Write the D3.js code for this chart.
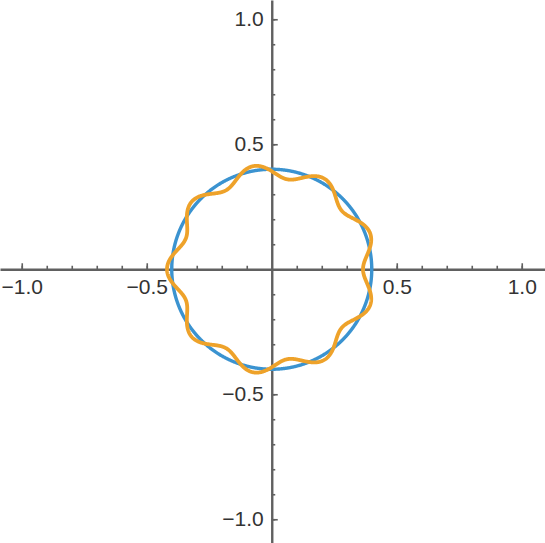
<!DOCTYPE html>
<html>
<head>
<meta charset="utf-8">
<script src="https://cdn.jsdelivr.net/npm/d3@7"></script>
<style>
  html, body { margin: 0; padding: 0; background: #fff; }
  .axis text { font-family: "Liberation Sans", Arial, sans-serif; font-size: 21px; fill: #333; }
  .axis path, .axis line { stroke: #606060; }
</style>
</head>
<body>
<div id="chart"></div>
<script>
// Axis ticks
const majorTicks = [-1.0, -0.5, 0.5, 1.0];
const minorTicks = [-1.0, -0.9, -0.8, -0.7, -0.6, -0.5, -0.4, -0.3, -0.2, -0.1,
                    0.1, 0.2, 0.3, 0.4, 0.5, 0.6, 0.7, 0.8, 0.9, 1.0];

// Plot ranges
const xRange = [-1.087, 1.093];
const yRange = [-1.095, 1.077];

// Curve parameters: blue circle, orange circle with 9 radial ripples
const circleRadius = [0.4];
const rippleBase = [0.392];
const rippleAmp = [0.027];
const rippleCount = [9];
const ripplePhase = [Math.PI];

const width = 545;
const height = 543;

const svg = d3.select('#chart')
  .append('svg')
  .attr('width', width)
  .attr('height', height);

const x = d3.scaleLinear().domain(xRange).range([0, width]);
const y = d3.scaleLinear().domain(yRange).range([height, 0]);

// sample the angle over a full turn
const ts = d3.range(0, 1441).map((i) => (i / 1440) * 2 * Math.PI);

const circlePts = ts.map((t) => [circleRadius[0] * Math.cos(t), circleRadius[0] * Math.sin(t)]);
const ripplePts = ts.map((t) => {
  const r = rippleBase[0] + rippleAmp[0] * Math.cos(rippleCount[0] * t + ripplePhase[0]);
  return [r * Math.cos(t), r * Math.sin(t)];
});

const fmt = d3.format('.1f');

// minor ticks
svg.append('g')
  .attr('class', 'axis')
  .attr('transform', `translate(0,${y(0)})`)
  .call(d3.axisBottom(x).tickValues(minorTicks).tickSize(-3.5).tickSizeOuter(0).tickFormat(''))
  .call((g) => g.select('.domain').remove());

svg.append('g')
  .attr('class', 'axis')
  .attr('transform', `translate(${x(0)},0)`)
  .call(d3.axisLeft(y).tickValues(minorTicks).tickSize(-3.5).tickSizeOuter(0).tickFormat(''))
  .call((g) => g.select('.domain').remove());

// major ticks and axis lines
const xAxis = svg.append('g')
  .attr('class', 'axis')
  .attr('transform', `translate(0,${y(0)})`)
  .call(d3.axisBottom(x).tickValues(majorTicks).tickSize(-6).tickSizeOuter(0).tickPadding(10).tickFormat(fmt));
xAxis.select('.domain').attr('stroke-width', 2.4);

const yAxis = svg.append('g')
  .attr('class', 'axis')
  .attr('transform', `translate(${x(0)},0)`)
  .call(d3.axisLeft(y).tickValues(majorTicks).tickSize(-6).tickSizeOuter(0).tickPadding(8).tickFormat(fmt));
yAxis.select('.domain').attr('stroke-width', 2.4);

svg.selectAll('.axis .tick line').attr('stroke-width', 1.6);

const line = d3.line().x((d) => x(d[0])).y((d) => y(d[1]));

svg.append('path')
  .datum(circlePts)
  .attr('d', line)
  .attr('fill', 'none')
  .attr('stroke', '#3b93d0')
  .attr('stroke-width', 3.4);

svg.append('path')
  .datum(ripplePts)
  .attr('d', line)
  .attr('fill', 'none')
  .attr('stroke', '#eea22a')
  .attr('stroke-width', 3.8);
</script>
</body>
</html>
